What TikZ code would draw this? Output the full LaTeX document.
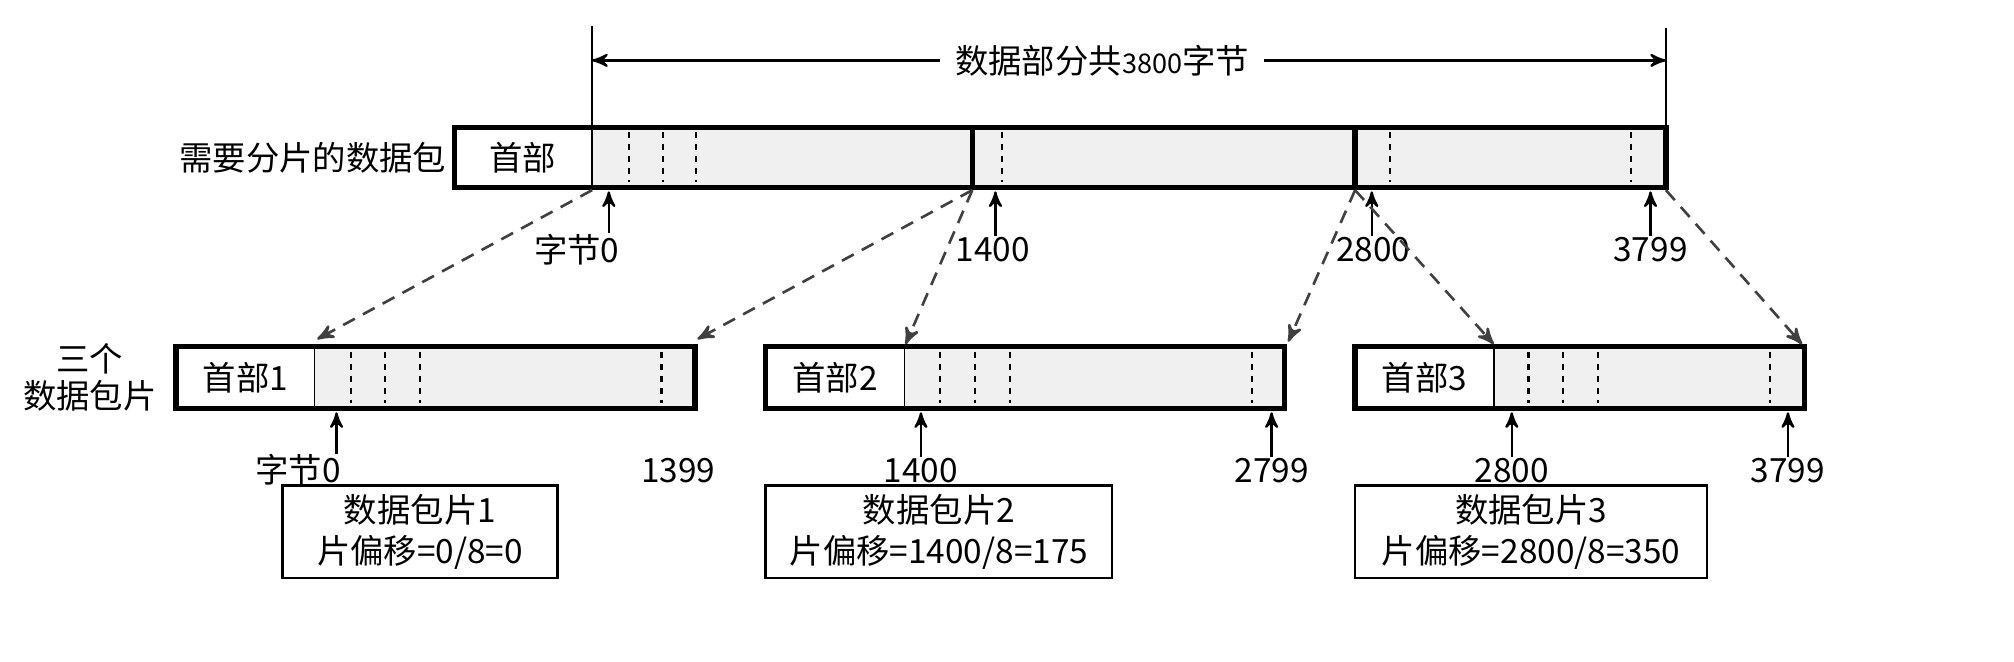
\documentclass[tikz,border=0pt]{standalone}
\usepackage{fontspec}
\setmainfont{Noto Sans CJK SC}
\usetikzlibrary{arrows}

\begin{document}
\begin{tikzpicture}[x=.012844cm, y=-.012844cm, >=stealth',
	every node/.style={font=\fontsize{9.5}{10.5}\selectfont, inner sep=0pt},
	frame/.style={line width=1.5pt},
	datafill/.style={fill=black!6},
	cut/.style={line width=.6pt, dash pattern=on 1.7pt off 1.7pt},
	pointer/.style={->, line width=.65pt},
	split/.style={->, line width=.75pt, black!75, dash pattern=on 3.8pt off 2.6pt},
	info/.style={draw, line width=.6pt, align=center, minimum height=.925cm, font=\fontsize{9.5}{11.7}\selectfont}]
			\useasboundingbox (0,0) rectangle (1568,515);
			
			\fill[datafill] (461,99) rectangle (1297,146);
			\draw[frame] (354,99) rectangle (1297,146);
			\draw (461,20) to (461,146);
			\draw (1297,22) to (1297,99);
			\draw[frame] (757,99) to (757,146);
			\draw[frame] (1055,99) to (1055,146);
			\draw[cut] (490,103) to (490,142);
			\draw[cut] (516,103) to (516,142);
			\draw[cut] (542,103) to (542,142);
			\draw[cut] (780,103) to (780,142);
			\draw[cut] (1082,103) to (1082,142);
			\draw[cut] (1270,103) to (1270,142);
			
			\node (hdr) at (407,123) {首部};
			\node[anchor=east] (pkt) at (348,123) {需要分片的数据包};
			
			\coordinate (dimL) at (461,47);
			\coordinate (dimR) at (1297,47);
			\node[fill=white, inner xsep=4pt] (total) at (858,47) {数据部分共{\fontsize{7.7}{9}\selectfont 3800}字节};
			\draw[pointer] (total) to (dimL);
			\draw[pointer] (total) to (dimR);
			
			\coordinate (p0) at (474,149);
			\coordinate (p1) at (775,149);
			\coordinate (p2) at (1068,149);
			\coordinate (p3) at (1285,149);
			\node (l0) at (449,194) {字节0};
			\node (l1) at (773,194) {1400};
			\node (l2) at (1069,194) {2800};
			\node (l3) at (1285,194) {3799};
			\draw[pointer] (p0 |- l0.north) to (p0);
			\draw[pointer] (p1 |- l1.north) to (p1);
			\draw[pointer] (p2 |- l2.north) to (p2);
			\draw[pointer] (p3 |- l3.north) to (p3);
			
			\node[align=center] (frags) at (70,294) {三个\\数据包片};
			
			\fill[datafill] (245,270) rectangle (541,318);
			\draw[frame] (137,270) rectangle (541,318);
			\draw (245,270) to (245,318);
			\draw[cut] (273,274) to (273,314);
			\draw[cut] (300,274) to (300,314);
			\draw[cut] (327,274) to (327,314);
			\draw[cut] (515,274) to (515,314);
			\node (h1) at (191,294) {首部1};
			
			\fill[datafill] (704,270) rectangle (1000,318);
			\draw[frame] (596,270) rectangle (1000,318);
			\draw (704,270) to (704,318);
			\draw[cut] (732,274) to (732,314);
			\draw[cut] (759,274) to (759,314);
			\draw[cut] (786,274) to (786,314);
			\draw[cut] (975,274) to (975,314);
			\node (h2) at (650,294) {首部2};
			
			\fill[datafill] (1163,270) rectangle (1405,318);
			\draw[frame] (1055,270) rectangle (1405,318);
			\draw (1163,270) to (1163,318);
			\draw[cut] (1190,274) to (1190,314);
			\draw[cut] (1217,274) to (1217,314);
			\draw[cut] (1244,274) to (1244,314);
			\draw[cut] (1378,274) to (1378,314);
			\node (h3) at (1109,294) {首部3};
			
			\coordinate (t0) at (461,148);
			\coordinate (t1) at (757,148);
			\coordinate (t2) at (1055,148);
			\coordinate (t3) at (1297,148);
			\coordinate (f1a) at (247,264);
			\coordinate (f1b) at (543,264);
			\coordinate (f2a) at (705,268);
			\coordinate (f2b) at (1003,266);
			\coordinate (f3a) at (1163,268);
			\coordinate (f3b) at (1403,268);
			\draw[split] (t0) to (f1a);
			\draw[split] (t1) to (f1b);
			\draw[split] (t1) to (f2a);
			\draw[split] (t2) to (f2b);
			\draw[split] (t2) to (f3a);
			\draw[split] (t3) to (f3b);
			
			\coordinate (q0) at (262,321);
			\coordinate (q1) at (717,321);
			\coordinate (q2) at (990,321);
			\coordinate (q3) at (1177,321);
			\coordinate (q4) at (1392,321);
			\node (m0) at (232,366) {字节0};
			\node (m9) at (528,366) {1399};
			\node (m1) at (717,366) {1400};
			\node (m2) at (990,366) {2799};
			\node (m3) at (1177,366) {2800};
			\node (m4) at (1392,366) {3799};
			\draw[pointer] (q0 |- m0.north) to (q0);
			\draw[pointer] (q1 |- m1.north) to (q1);
			\draw[pointer] (q2 |- m2.north) to (q2);
			\draw[pointer] (q3 |- m3.north) to (q3);
			\draw[pointer] (q4 |- m4.north) to (q4);
			
			\node[info, minimum width=2.75cm] (i1) at (327,414) {数据包片1\\片偏移=0/8=0};
			\node[info, minimum width=3.47cm] (i2) at (731,414) {数据包片2\\片偏移=1400/8=175};
			\node[info, minimum width=3.52cm] (i3) at (1192,414) {数据包片3\\片偏移=2800/8=350};
			\end{tikzpicture}
\end{document}
